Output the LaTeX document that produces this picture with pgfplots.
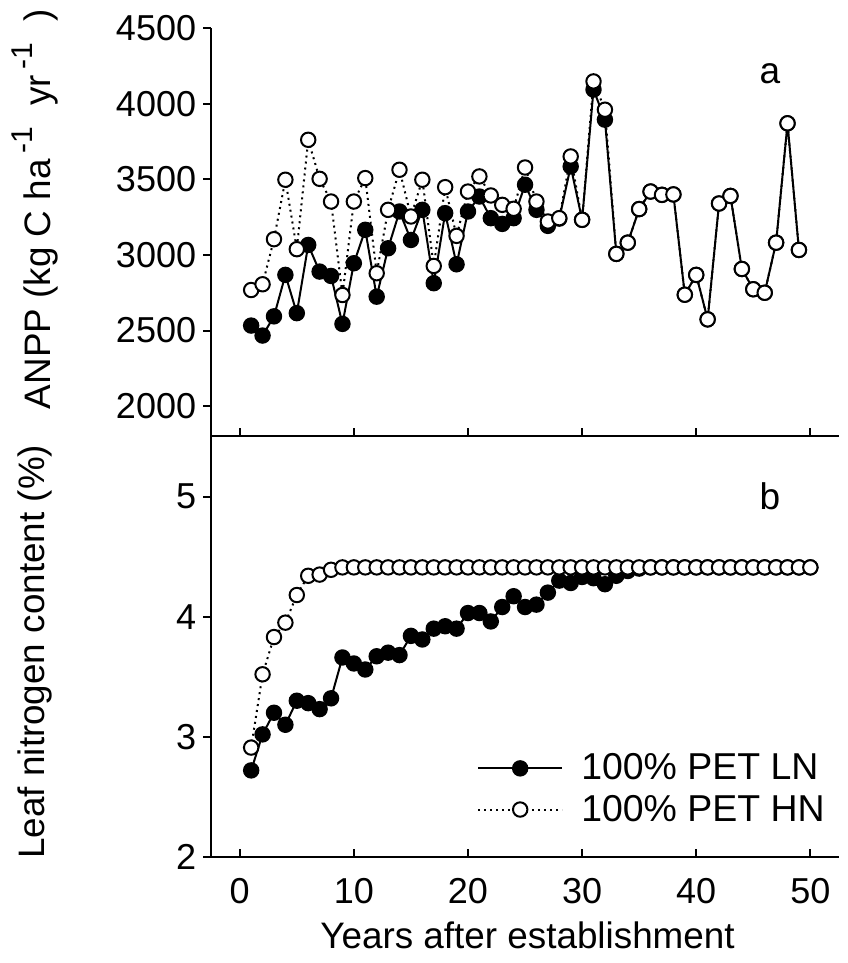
\documentclass[border=0pt]{standalone}
\usepackage{fontspec}
\setmainfont{Liberation Sans}
\usepackage{pgfplots}
\usepackage{pgfplotstable}
\pgfplotsset{compat=1.18}

% ANPP, panel a
\pgfplotstableread{
year ln hn
1 2533 2768
2 2467 2806
3 2594 3104
4 2868 3497
5 2615 3038
6 3066 3761
7 2890 3503
8 2861 3353
9 2544 2735
10 2945 3353
11 3166 3508
12 2724 2879
13 3044 3298
14 3287 3563
15 3099 3254
16 3298 3497
17 2813 2927
18 3276 3448
19 2938 3126
20 3287 3419
21 3386 3519
22 3243 3393
23 3205 3331
24 3243 3305
25 3464 3578
26 3298 3353
27 3192 3221
28 3240 3243
29 3585 3651
30 3232 3232
31 4093 4147
32 3894 3960
33 3007 3007
34 3081 3081
35 3303 3303
36 3419 3419
37 3397 3397
38 3400 3400
39 2737 2737
40 2868 2868
41 2574 2574
42 3340 3340
43 3390 3390
44 2907 2907
45 2773 2773
46 2750 2750
47 3081 3081
48 3870 3870
49 3033 3033
}\anpp

% leaf N, panel b
\pgfplotstableread{
year ln hn
1 2.72 2.91
2 3.02 3.52
3 3.20 3.83
4 3.10 3.95
5 3.30 4.18
6 3.28 4.34
7 3.23 4.35
8 3.32 4.39
9 3.66 4.41
10 3.61 4.41
11 3.56 4.41
12 3.67 4.41
13 3.70 4.41
14 3.68 4.41
15 3.84 4.41
16 3.81 4.41
17 3.90 4.41
18 3.92 4.41
19 3.90 4.41
20 4.03 4.41
21 4.03 4.41
22 3.96 4.41
23 4.08 4.41
24 4.17 4.41
25 4.08 4.41
26 4.10 4.41
27 4.20 4.41
28 4.30 4.41
29 4.28 4.41
30 4.33 4.41
31 4.32 4.41
32 4.27 4.41
33 4.34 4.41
34 4.38 4.41
35 4.40 4.41
36 4.41 4.41
37 4.41 4.41
38 4.41 4.41
39 4.41 4.41
40 4.41 4.41
41 4.41 4.41
42 4.41 4.41
43 4.41 4.41
44 4.41 4.41
45 4.41 4.41
46 4.41 4.41
47 4.41 4.41
48 4.41 4.41
49 4.41 4.41
50 4.41 4.41
}\leafn

\pgfplotsset{
  panel/.style={
    scale only axis, width=313.5pt,
    xmin=-2.5, xmax=52.5,
    axis x line*=bottom, axis y line*=left,
    axis line style={line width=1pt},
    tick style={line width=1pt, black},
    tick align=outside, major tick length=4pt,
    major x tick style={yshift=4pt},
    xtick={0,10,...,50},
    /pgf/number format/assume math mode=true,
    /pgf/number format/1000 sep={},
    tick label style={font=\fontsize{18}{20}\selectfont},
    xticklabel style={yshift=-3pt},
    label style={font=\fontsize{18.4}{20}\selectfont},
    clip=false,
  },
  lnstyle/.style={black, line width=1pt, mark=*, mark size=3.6pt,
    mark options={solid, fill=black}},
  hnstyle/.style={black, line width=1pt, dotted, mark=*, mark size=3.6pt,
    mark options={solid, fill=white, line width=1pt}},
}
\newcommand{\sups}[1]{\raisebox{0.5em}{\fontsize{15}{15}\selectfont #1}}

\begin{document}
\begin{tikzpicture}
\path[use as bounding box] (-105.5pt,-53pt) rectangle (318pt,428pt);

\begin{axis}[panel,
    at={(0pt,210pt)}, anchor=south west, height=204pt,
    ymin=1800, ymax=4500, ytick={2000,2500,...,4500},
    xticklabels={},
    ylabel={ANPP (kg C ha\,\sups{-1}\ \ yr\,\sups{-1}\ \ )},
    ylabel style={at={(axis description cs:-0.281,0.556)}, anchor=center},
]
\addplot[lnstyle] table[x=year, y=ln] {\anpp};
\addplot[hnstyle] table[x=year, y=hn] {\anpp};
\node[font=\fontsize{18.5}{20}\selectfont] at (rel axis cs:0.89,0.887) {a};
\end{axis}

\begin{axis}[panel,
    at={(0pt,0pt)}, anchor=south west, height=210pt,
    ymin=2, ymax=5.5, ytick={2,3,4,5},
    xlabel={Years after establishment},
    xlabel style={at={(axis description cs:0.504,-0.186)}, anchor=center},
    ylabel={Leaf nitrogen content (\%)},
    ylabel style={at={(axis description cs:-0.281,0.488)}, anchor=center},
    legend style={draw=none, fill=none, at={(0.994,0.058)}, anchor=south east,
      font=\fontsize{18.7}{20}\selectfont, row sep=2pt,
      /tikz/every odd column/.append style={column sep=7pt}},
    legend cell align=left,
    legend image code/.code={
      \draw[mark repeat=2, mark phase=2, #1] plot coordinates {(0pt,0pt) (21pt,0pt) (42pt,0pt)};
    },
]
\addplot[lnstyle] table[x=year, y=ln] {\leafn};
\addplot[hnstyle] table[x=year, y=hn] {\leafn};
\node[font=\fontsize{18.5}{20}\selectfont] at (rel axis cs:0.89,0.857) {b};
\legend{100\% PET LN, 100\% PET HN}
\end{axis}
\end{tikzpicture}
\end{document}
